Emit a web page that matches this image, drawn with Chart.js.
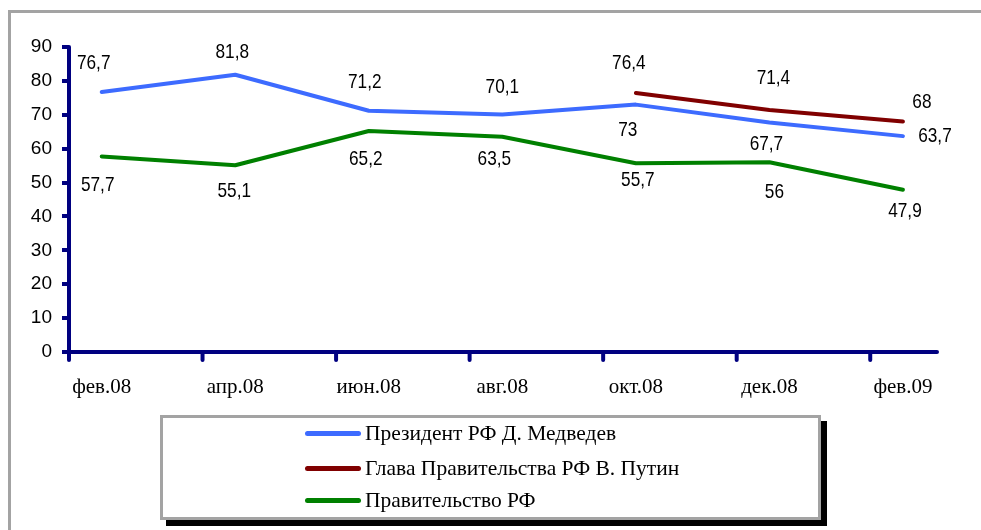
<!DOCTYPE html>
<html><head><meta charset="utf-8">
<script src="https://cdn.jsdelivr.net/npm/chart.js@4.4.1/dist/chart.umd.min.js"></script>
<style>
html,body{margin:0;padding:0;background:#fff;width:981px;height:530px;overflow:hidden;position:relative;}
#frame{position:absolute;left:8px;top:10px;width:1100px;height:700px;border:3px solid #a3a3a3;box-sizing:border-box;}
#c{position:absolute;left:0;top:0;}
#legend{position:absolute;left:160px;top:415px;width:661px;height:105px;box-sizing:border-box;border:3px solid #a3a3a3;background:#fff;box-shadow:6px 6px 0 #000;font-family:'Liberation Serif','Times New Roman',serif;font-size:21.5px;color:#000;}
.item{position:absolute;left:142px;height:26px;display:flex;align-items:center;white-space:nowrap;}
.swatch{width:56px;height:5px;border-radius:3px;margin-right:4px;flex:none;}
</style></head>
<body>
<div id="frame"></div>
<canvas id="c" width="981" height="530"></canvas>
<div id="legend"></div>
<script>
const categories = ['фев.08','апр.08','июн.08','авг.08','окт.08','дек.08','фев.09'];
const seriesNames = ['Президент РФ Д. Медведев','Глава Правительства РФ В. Путин','Правительство РФ'];
const medvedev = [76.7, 81.8, 71.2, 70.1, 73, 67.7, 63.7];
const putin = [null, null, null, null, 76.4, 71.4, 68];
const government = [57.7, 55.1, 65.2, 63.5, 55.7, 56, 47.9];
const yTicks = [0, 10, 20, 30, 40, 50, 60, 70, 80, 90];

// label placement (pixel offsets from the point), kept apart from the data
const medvedevLabelOffsets = [[-8,-29],[-3,-23],[-4,-29],[0,-27],[-8,26],[-3,22],[32,0]];
const putinLabelOffsets = [null,null,null,null,[-7,-30],[4,-32],[19,-19]];
const governmentLabelOffsets = [[-4,29],[-1,26],[-3,28],[-8,22],[2,17],[5,30],[2,22]];

const colors = ['#3d6bff', '#800000', '#008000'];
const NAVY = '#000080';
const SANS = "'Liberation Sans',Arial,sans-serif";
const SERIF = "'Liberation Serif','Times New Roman',serif";

const toXY = arr => arr.map((v, i) => ({x: i, y: v}));
const seriesData = [medvedev, putin, government];
const offsets = [medvedevLabelOffsets, putinLabelOffsets, governmentLabelOffsets];

const valueLabels = {
  id: 'valueLabels',
  afterDatasetsDraw(chart) {
    const ctx = chart.ctx;
    chart.data.datasets.forEach((ds, di) => {
      const meta = chart.getDatasetMeta(di);
      meta.data.forEach((pt, i) => {
        const v = seriesData[di][i];
        if (v === null || v === undefined) return;
        const o = offsets[di][i] || [0, -25];
        ctx.save();
        ctx.font = '21px ' + SANS;
        ctx.fillStyle = '#000';
        ctx.textAlign = 'center';
        ctx.textBaseline = 'middle';
        ctx.translate(pt.x + o[0], pt.y + o[1]);
        ctx.scale(0.82, 1);
        ctx.fillText(String(v).replace('.', ','), 0, 0);
        ctx.restore();
      });
    });
  }
};

const axisMarks = {
  id: 'axisMarks',
  afterDraw(chart) {
    const ctx = chart.ctx, xs = chart.scales.x, ys = chart.scales.y;
    const y0 = chart.chartArea.bottom, xl = chart.chartArea.left;
    ctx.save();
    ctx.strokeStyle = NAVY;
    ctx.lineWidth = 4;
    ctx.lineCap = 'round';
    categories.forEach((c, i) => {
      const px = xs.getPixelForValue(i - 0.245);
      ctx.beginPath();
      ctx.moveTo(px, y0);
      ctx.lineTo(px, y0 + 8);
      ctx.stroke();
    });
    ctx.beginPath();
    ctx.moveTo(xl, ys.getPixelForValue(yTicks[yTicks.length - 1]));
    ctx.lineTo(xl, y0);
    ctx.stroke();
    ctx.beginPath();
    ctx.moveTo(xl, y0);
    ctx.lineTo(chart.chartArea.right, y0);
    ctx.stroke();
    ctx.restore();
  }
};

const chart = new Chart(document.getElementById('c'), {
  type: 'line',
  data: {
    datasets: seriesData.map((arr, i) => ({
      label: seriesNames[i],
      data: toXY(arr),
      borderColor: colors[i],
      backgroundColor: colors[i],
      borderWidth: 4,
      borderCapStyle: 'round',
      borderJoinStyle: 'round',
      pointRadius: 0,
      tension: 0,
      fill: false
    }))
  },
  options: {
    responsive: false,
    animation: false,
    layout: {padding: {left: 0, top: 47, right: 44, bottom: 0}},
    plugins: {legend: {display: false}, tooltip: {enabled: false}, title: {display: false}},
    scales: {
      x: {
        type: 'linear',
        min: -0.245,
        max: 6.255,
        afterBuildTicks: s => { s.ticks = categories.map((c, i) => ({value: i})); },
        afterFit: s => { s.height = 178; },
        grid: {display: false, drawTicks: false},
        border: {display: false},
        ticks: {
          callback: v => categories[v],
          font: {family: SERIF, size: 21},
          color: '#000',
          padding: 23,
          maxRotation: 0,
          autoSkip: false
        }
      },
      y: {
        min: 0,
        max: 90,
        afterBuildTicks: s => { s.ticks = yTicks.map(v => ({value: v})); },
        afterFit: s => { s.width = 69; },
        grid: {display: true, drawOnChartArea: false, drawTicks: true, tickLength: 7, color: NAVY, lineWidth: 4},
        border: {display: false},
        ticks: {
          font: {family: SANS, size: 19},
          color: '#000',
          padding: 10
        }
      }
    }
  },
  plugins: [valueLabels, axisMarks]
});

const legend = document.getElementById('legend');
const rowTops = [2, 37, 69];
chart.data.datasets.forEach((ds, i) => {
  const it = document.createElement('div');
  it.className = 'item';
  it.style.top = rowTops[i] + 'px';
  const sw = document.createElement('span');
  sw.className = 'swatch';
  sw.style.background = ds.borderColor;
  const tx = document.createElement('span');
  tx.textContent = ds.label;
  it.appendChild(sw);
  it.appendChild(tx);
  legend.appendChild(it);
});
</script>
</body></html>
